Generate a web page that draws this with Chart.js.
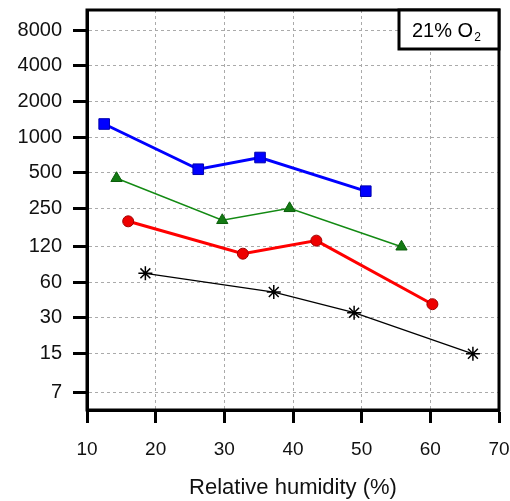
<!DOCTYPE html>
<html>
<head>
<meta charset="utf-8">
<script src="https://cdn.jsdelivr.net/npm/chart.js@4.4.0/dist/chart.umd.min.js"></script>
<style>
  html, body { margin: 0; padding: 0; background: #fff; }
  #wrap { width: 510px; height: 501px; }
</style>
</head>
<body>
<div id="wrap"><canvas id="mycanvas" width="510" height="501"></canvas></div>
<script>
// values
var humidityBlue = [12.5, 26.2, 35.2, 50.6];
var valuesBlue = [1290, 536, 673, 350];
var humidityGreen = [14.3, 29.7, 39.5, 55.8];
var valuesGreen = [450, 199, 251, 119];
var humidityRed = [16.0, 32.7, 43.4, 60.3];
var valuesRed = [195, 104, 134, 39];
var humidityBlack = [18.5, 37.2, 48.9, 66.2];
var valuesBlack = [71, 49.4, 33.1, 14.9];

var yTicks = [7, 15, 30, 60, 120, 250, 500, 1000, 2000, 4000, 8000];
var xTicks = [10, 20, 30, 40, 50, 60, 70];
var boxLabel = "21% O";
var boxSub = "2";
var xTitle = "Relative humidity (%)";

function pairs(xs, ys) {
	var out = [];
	for (var i in xs) {
		out.push({x: xs[i], y: ys[i]});
	}
	return out;
}

var FONT = "'Liberation Sans', Arial, sans-serif";

var framePlugin = {
	id: 'frame',
	afterDraw: function(chart) {
		var a = chart.chartArea;
		var ctx = chart.ctx;
		ctx.save();
		ctx.strokeStyle = "#000";
		ctx.lineWidth = 3;
		ctx.strokeRect(a.left, a.top, a.right - a.left, a.bottom - a.top);

		// label box in top right corner
		var w = 100, h = 39;
		ctx.fillStyle = "#fff";
		ctx.fillRect(a.right - w, a.top, w, h);
		ctx.strokeRect(a.right - w, a.top, w, h);
		ctx.fillStyle = "#000";
		ctx.font = "20px " + FONT;
		ctx.textBaseline = "alphabetic";
		ctx.textAlign = "left";
		var tx = a.right - w + 13;
		ctx.fillText(boxLabel, tx, a.top + 27);
		var tw = ctx.measureText(boxLabel).width;
		ctx.font = "12px " + FONT;
		ctx.fillText(boxSub, tx + tw + 1, a.top + 31);
		ctx.restore();
	}
};

function noPad(scale) {
	scale.paddingTop = 0;
	scale.paddingBottom = 0;
	scale.paddingLeft = 0;
	scale.paddingRight = 0;
}

var ctx = document.getElementById("mycanvas");

var chartdata = {
	datasets: [
		{
			label: "blue",
			data: pairs(humidityBlue, valuesBlue),
			borderColor: "#0000ff",
			borderWidth: 3,
			backgroundColor: "#0000ff",
			pointStyle: "rect",
			pointRadius: 7.5,
			pointBorderColor: "#0000b0",
			pointBorderWidth: 1
		},
		{
			label: "green",
			data: pairs(humidityGreen, valuesGreen),
			borderColor: "#138a13",
			borderWidth: 1.5,
			backgroundColor: "#137a13",
			pointStyle: "triangle",
			pointRadius: 6.5,
			pointBorderColor: "#0b5e0b",
			pointBorderWidth: 1
		},
		{
			label: "red",
			data: pairs(humidityRed, valuesRed),
			borderColor: "#ff0000",
			borderWidth: 3,
			backgroundColor: "#ee0000",
			pointStyle: "circle",
			pointRadius: 5.5,
			pointBorderColor: "#a00000",
			pointBorderWidth: 1
		},
		{
			label: "black",
			data: pairs(humidityBlack, valuesBlack),
			borderColor: "#000",
			borderWidth: 1.3,
			backgroundColor: "#000",
			pointStyle: "star",
			pointRadius: 7,
			pointBorderColor: "#000",
			pointBorderWidth: 1.5
		}
	]
};

var LineGraph = new Chart(ctx, {
	type: 'line',
	data: chartdata,
	plugins: [framePlugin],
	options: {
		responsive: false,
		animation: false,
		layout: { padding: { left: 0, right: 11, top: 10, bottom: 0 } },
		plugins: {
			legend: { display: false },
			tooltip: { enabled: false }
		},
		elements: { line: { tension: 0 } },
		scales: {
			x: {
				type: 'linear',
				min: 10,
				max: 70,
				afterBuildTicks: function(scale) {
					scale.ticks = xTicks.map(function(v) { return {value: v}; });
				},
				afterFit: function(scale) { scale.height = 91; noPad(scale); },
				ticks: {
					color: "#111",
					font: { family: FONT, size: 19 },
					padding: 15
				},
				grid: {
					color: "#aaa",
					lineWidth: 1,
					tickLength: 13,
					tickWidth: 3,
					tickColor: "#000",
					tickBorderDash: []
				},
				border: { color: "#000", width: 3, dash: [3, 3] },
				title: {
					display: true,
					text: xTitle,
					color: "#111",
					font: { family: FONT, size: 22 },
					padding: { top: 0, bottom: 0 }
				}
			},
			y: {
				type: 'logarithmic',
				min: 5,
				max: 11800,
				afterBuildTicks: function(scale) {
					scale.ticks = yTicks.map(function(v) { return {value: v}; });
				},
				afterFit: function(scale) { scale.width = 87; noPad(scale); },
				ticks: {
					color: "#111",
					font: { family: FONT, size: 20 },
					padding: 11,
					callback: function(v) { return String(v); }
				},
				grid: {
					color: "#aaa",
					lineWidth: 1,
					tickLength: 14,
					tickWidth: 3,
					tickColor: "#000",
					tickBorderDash: []
				},
				border: { color: "#000", width: 3, dash: [3, 3] }
			}
		}
	}
});
</script>
</body>
</html>
